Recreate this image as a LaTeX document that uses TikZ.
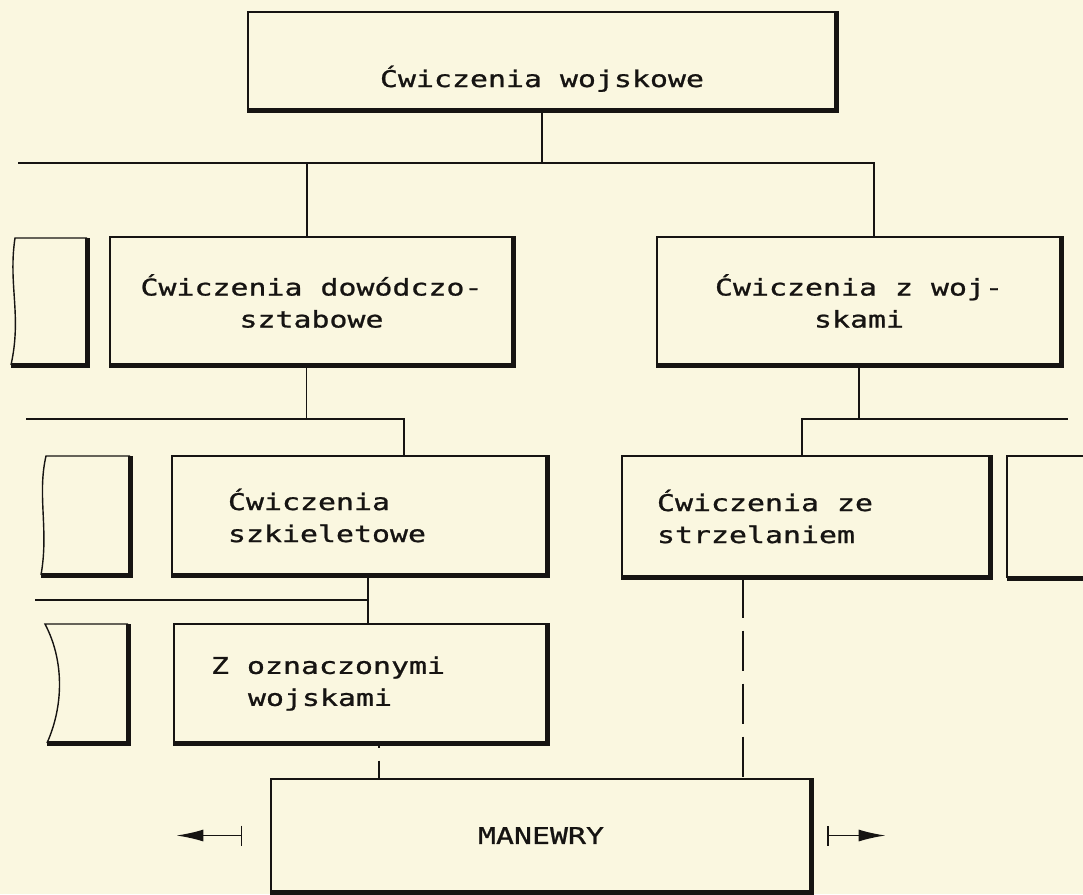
\documentclass[tikz,border=0pt]{standalone}
\usepackage{fontspec}
\newfontfamily\plotfont{DejaVu Sans Mono}[FakeStretch=1.3, FakeBold=1]
\usetikzlibrary{arrows.meta}
\definecolor{paper}{RGB}{250,247,224}
\definecolor{ink}{RGB}{22,20,18}
\newcommand\fixsp{\spaceskip=0pt\xspaceskip=0pt\relax}

\begin{document}
\begin{tikzpicture}[x=1pt, y=-1pt, ink,
  box/.style={draw, line width=1.4pt, inner sep=0pt, font=\plotfont\fontsize{23}{32}\selectfont},
  link/.style={line width=1.4pt},
  heavy/.style={line width=5pt},
  dashlink/.style={line width=1.4pt, dash pattern=on 40pt off 13pt},
  barrow/.style={line width=1.8pt, {Bar[width=20pt]}-{Latex[length=27pt,width=12pt]}}]
\fill[paper] (0,0) rectangle (1083,894);
\useasboundingbox (0,0) rectangle (1083,894);

\node (wojsk) at (542,61) [box, minimum width=588pt, minimum height=98pt, text height=56pt, text depth=4pt] {Ćwiczenia wojskowe};
\node (dow) at (311.5,301) [box, minimum width=403pt, minimum height=128pt, align=center] {Ćwiczenia dowódczo-\\sztabowe};
\node (zwoj) at (859,301) [box, minimum width=404pt, minimum height=128pt, align=center] {Ćwiczenia z woj-\\skami};
\node (szk) at (359.5,515.5) [box, minimum width=375pt, minimum height=119pt, text width=263pt, align=left] {\fixsp Ćwiczenia\\szkieletowe};
\node (zes) at (806,516.5) [box, minimum width=368pt, minimum height=121pt, text width=298pt, align=left] {\fixsp Ćwiczenia ze\\strzelaniem};
\node (zozn) at (360.5,683.5) [box, minimum width=373pt, minimum height=119pt, text width=299pt, align=left] {\fixsp Z oznaczonymi\\\hspace*{37pt}wojskami};
\node (man) at (541,835.5) [box, minimum width=540pt, minimum height=113pt] {MANEWRY};

% thick right and bottom edges
\foreach \n in {wojsk,dow,zwoj,szk,zes,zozn,man}
  \draw[heavy] (\n.north east) -- (\n.south east) -- (\n.south west);

% cut boxes at the margins
\draw[link] (87,238) -- (15,238) .. controls (8,285) and (22,315) .. (11,365);
\draw[heavy] (87,238) -- (87,365) -- (11,365);
\draw[link] (130,456) -- (46,456) .. controls (37,495) and (49,530) .. (41,575);
\draw[heavy] (130,456) -- (130,575) -- (41,575);
\draw[link] (128,624) -- (45,624) .. controls (64,660) and (64,705) .. (47,743);
\draw[heavy] (128,624) -- (128,743) -- (47,743);
\draw[link] (1090,456) -- (1007,456) -- (1007,578);
\draw[heavy] (1007,578) -- (1090,578);

% branches
\coordinate (b1l) at (18,163);
\coordinate (j1) at (307,163);
\coordinate (j2) at (874,163);
\draw[link] (wojsk.south) -- (wojsk.south |- b1l);
\draw[link] (b1l) -- (j2) -- (j2 |- zwoj.north);
\draw[link] (j1) -- (j1 |- dow.north);

\coordinate (b2l) at (26,419);
\coordinate (j3) at (404,419);
\draw[link] ([xshift=-5pt]dow.south) -- ([xshift=-5pt]dow.south |- b2l);
\draw[link] (b2l) -- (j3) -- (j3 |- szk.north);

\coordinate (b3r) at (1068,419);
\coordinate (j4) at (802,419);
\draw[link] (zwoj.south) -- (zwoj.south |- b3r);
\draw[link] (j4 |- zes.north) -- (j4) -- (b3r);

\coordinate (b4l) at (35,600);
\coordinate (j5) at (368,600);
\draw[link] (b4l) -- (j5);
\draw[link] (j5 |- szk.south) -- (j5 |- zozn.north);

\coordinate (d1) at (379,760);
\coordinate (d2) at (743,700);
\draw[dashlink, dash phase=36pt] (zozn.south -| d1) -- (man.north -| d1);
\draw[dashlink] (zes.south -| d2) -- (man.north -| d2);

\draw[barrow] ([xshift=-28pt]man.west) -- ++(-66,0);
\draw[barrow] ([xshift=15pt]man.east) -- ++(59,0);
\end{tikzpicture}
\end{document}
